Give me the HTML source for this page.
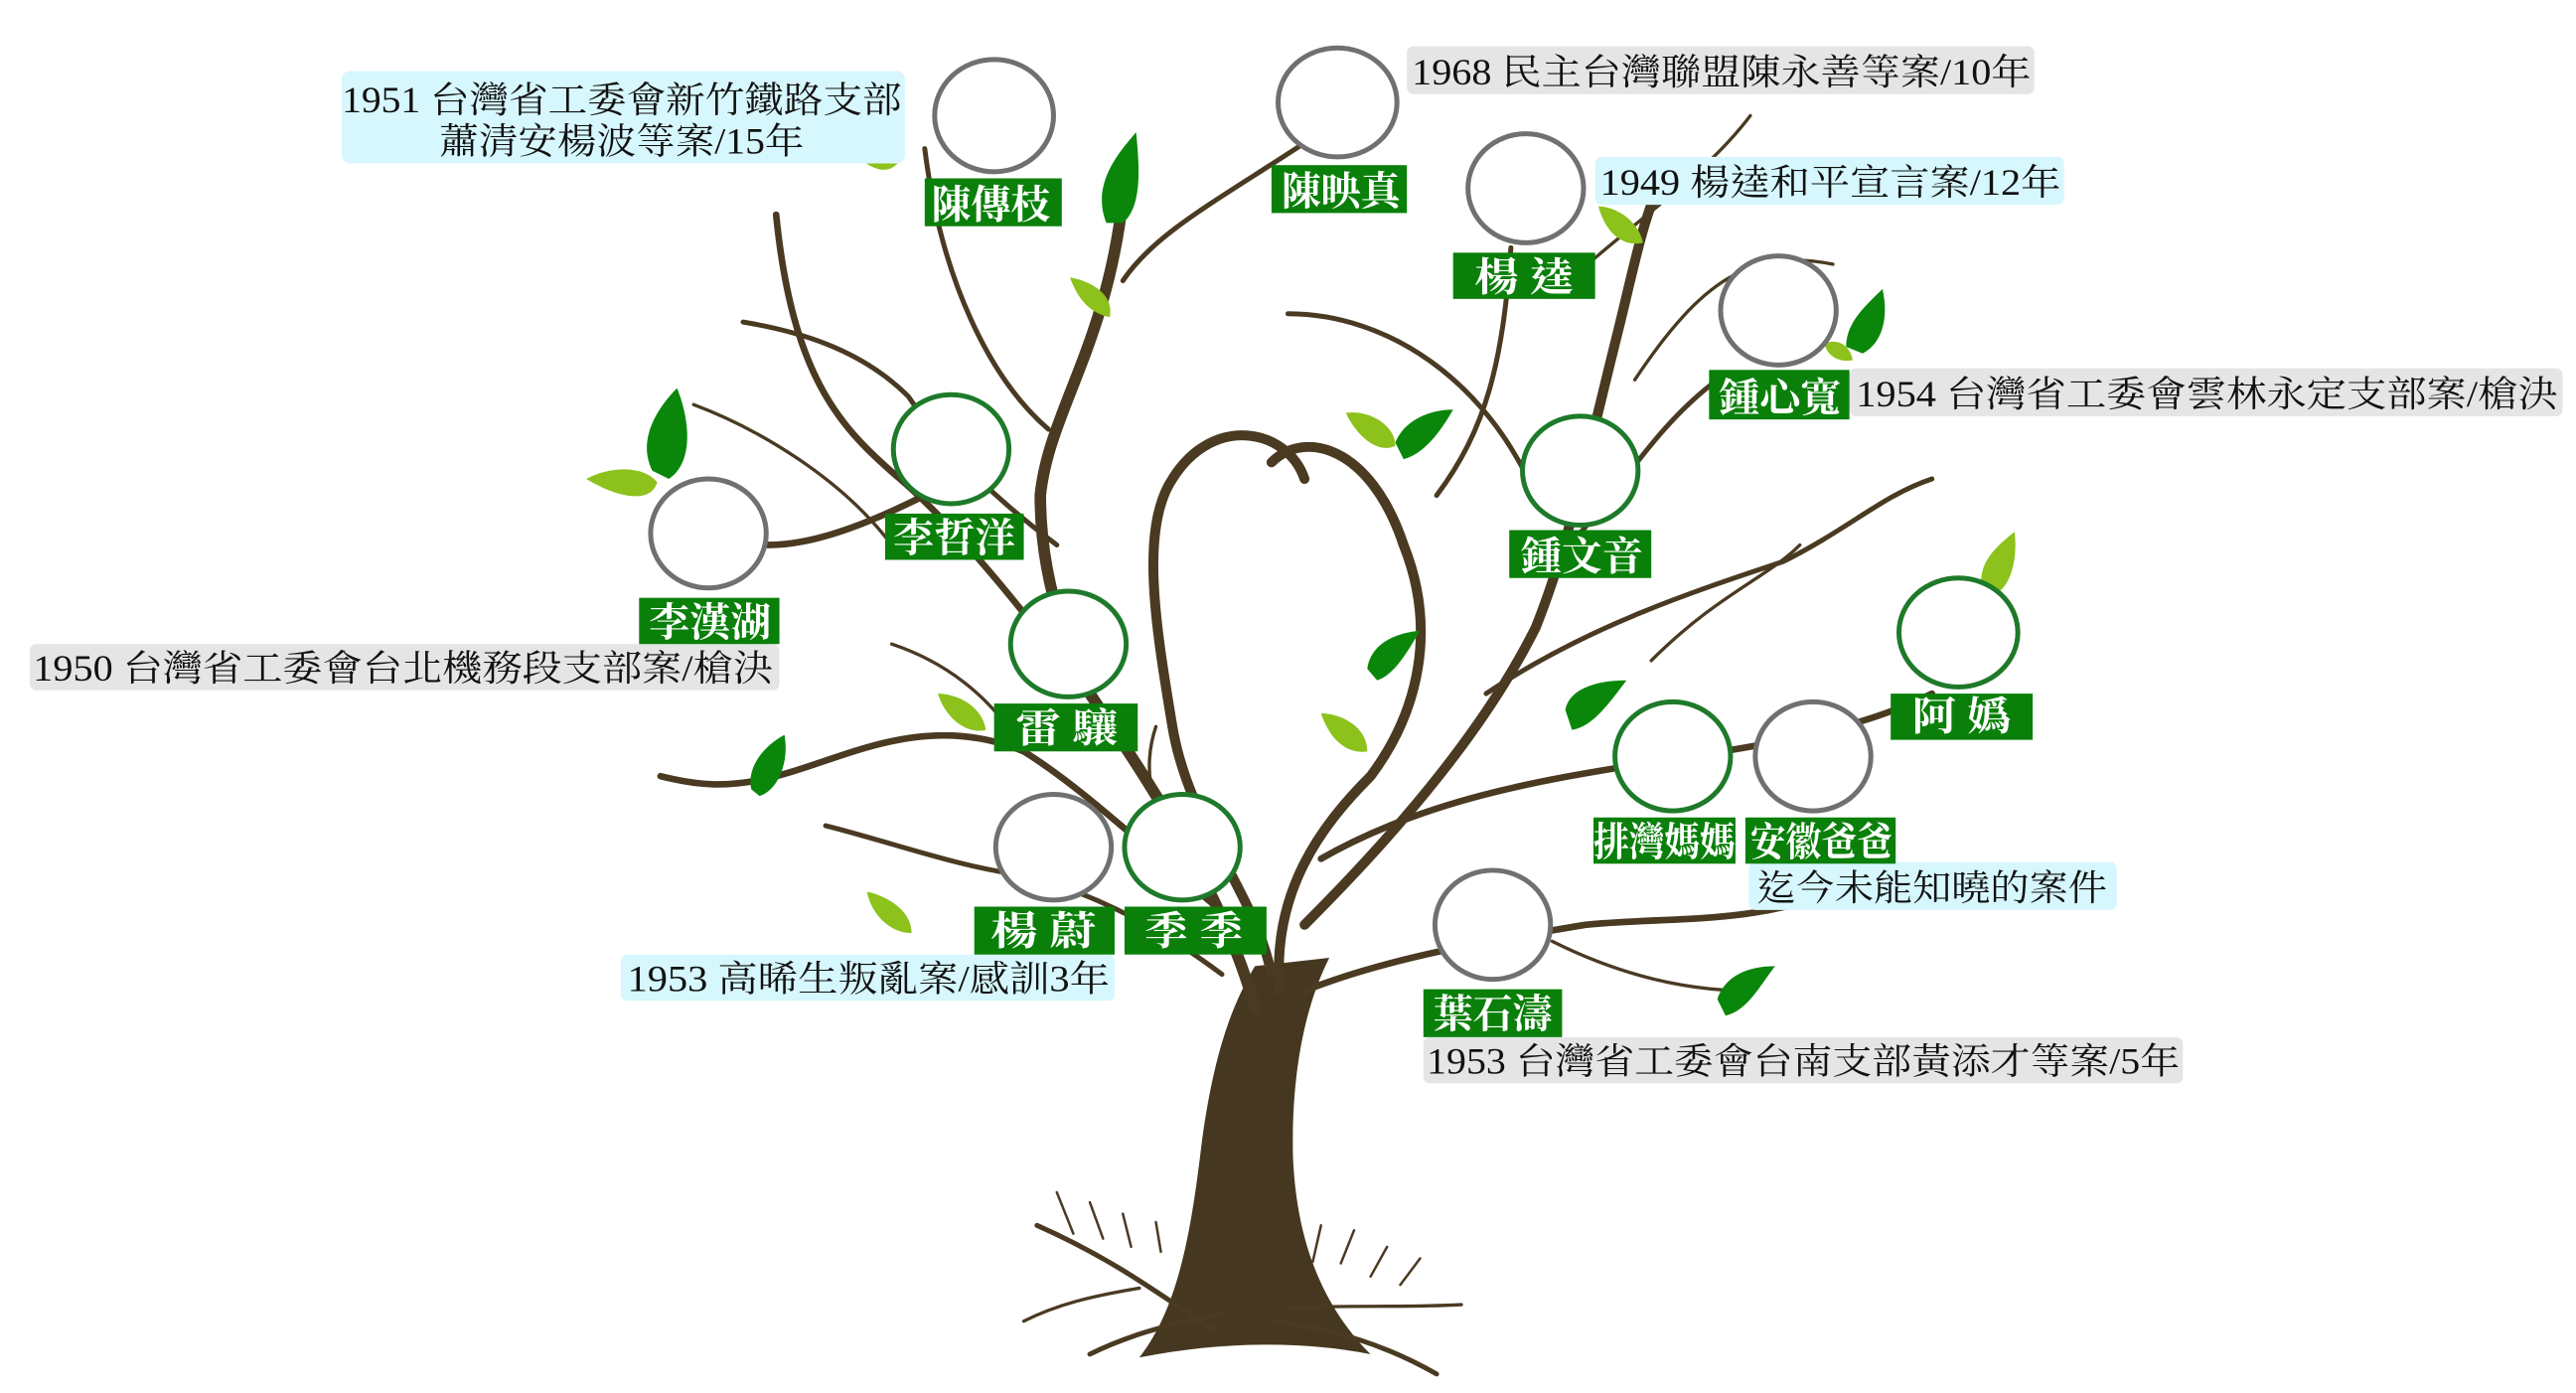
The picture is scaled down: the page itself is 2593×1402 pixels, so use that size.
<!DOCTYPE html>
<html><head><meta charset="utf-8"><style>
html,body{margin:0;padding:0;background:#fff;}
svg{display:block;}
.lbl{font-family:"Liberation Serif","Noto Serif CJK TC","Noto Serif CJK SC",serif;font-weight:bold;fill:#fff;font-size:24px;}
.ann{font-family:"Liberation Serif","Noto Serif CJK TC","Noto Serif CJK SC",serif;fill:#111;font-size:22px;}
</style></head><body>
<svg width="2593" height="1402" viewBox="0 0 1560 843.5" xmlns="http://www.w3.org/2000/svg">
<g fill="none" stroke="#4a3a22" stroke-linecap="round">
<!-- trunk -->
<path d="M690,822 C715,790 722,740 728,690 C735,640 745,610 760,585 L805,580 C790,610 782,650 783,700 C785,750 800,790 830,820 C790,812 740,812 690,822 Z" fill="#463820" stroke="none"/>
<path d="M628,742 C680,765 710,790 735,805" stroke-width="3"/>
<path d="M660,820 C690,805 720,800 740,795" stroke-width="3"/>
<path d="M770,800 C810,805 840,815 870,832" stroke-width="3"/>
<path d="M780,792 C820,790 850,792 885,790" stroke-width="2"/>
<path d="M690,780 C660,785 640,790 620,800" stroke-width="2"/>
<path d="M640,722 l10,25 M660,728 l8,22 M680,735 l5,20 M700,740 l3,18 M800,742 l-5,22 M820,745 l-8,20 M840,755 l-10,18 M860,762 l-12,16" stroke-width="1.5"/>
<!-- main branches -->
<path d="M760,610 C740,540 700,480 660,420 C640,380 630,340 630,300 C635,250 670,210 680,120" stroke-width="7"/>
<path d="M650,410 C620,370 580,320 545,290 C510,260 480,230 470,130" stroke-width="4"/>
<path d="M640,330 C600,300 570,270 550,240 C520,210 480,200 450,195" stroke-width="3"/>
<path d="M635,260 C600,230 570,170 560,90" stroke-width="3"/>
<path d="M680,170 C700,140 740,120 800,80" stroke-width="3"/>
<path d="M560,300 C520,320 490,330 465,330" stroke-width="4"/>
<path d="M540,330 C510,290 460,260 420,245" stroke-width="2"/>
<!-- heart -->
<path d="M770,590 C760,540 720,500 710,440 C700,380 690,320 710,290 C735,250 780,260 790,290" stroke-width="6"/>
<path d="M775,600 C770,540 800,500 830,470 C860,430 870,380 850,330 C830,270 790,260 770,280" stroke-width="6"/>
<!-- right branches -->
<path d="M790,560 C850,500 900,440 930,380 C950,330 960,280 980,200 C990,160 995,130 1010,100" stroke-width="6"/>
<path d="M950,330 C980,300 1000,260 1040,230" stroke-width="3"/>
<path d="M870,300 C900,260 910,220 915,150" stroke-width="3"/>
<path d="M930,300 C900,230 840,190 780,190" stroke-width="3"/>
<path d="M940,180 C980,140 1030,110 1060,70" stroke-width="2"/>
<path d="M990,230 C1030,170 1060,150 1110,160" stroke-width="2"/>
<path d="M900,420 C960,380 1020,360 1080,340 C1120,320 1140,300 1170,290" stroke-width="3"/>
<path d="M800,520 C870,480 950,470 1010,460 C1080,450 1130,440 1170,420" stroke-width="4"/>
<path d="M790,600 C840,580 900,570 960,560 C1010,555 1060,560 1110,540" stroke-width="4"/>
<path d="M940,570 C980,590 1020,600 1060,600" stroke-width="2"/>
<path d="M1000,400 C1040,360 1070,350 1090,330" stroke-width="2"/>
<!-- left lower -->
<path d="M750,560 C700,520 660,480 620,455 C560,430 510,460 470,470 C440,478 420,475 400,470" stroke-width="4"/>
<path d="M740,590 C700,560 660,540 620,530 C580,525 540,510 500,500" stroke-width="3"/>
<path d="M620,455 C600,420 570,400 540,390" stroke-width="2"/>
<path d="M720,520 C700,500 690,470 700,440" stroke-width="2"/>
</g>
<!-- leaves -->
<g>
<path d="M670,135 C660,110 680,90 688,80 C690,100 692,125 680,135 Z" fill="#0a870a"/>
<path d="M520,95 C530,105 540,105 545,97 Z" fill="#8cc21b"/>
<path d="M648,168 C660,170 675,178 672,192 C660,190 652,180 648,168 Z" fill="#8cc21b"/>
<path d="M395,285 C385,265 400,245 410,235 C418,255 420,280 405,290 Z" fill="#0a870a"/>
<path d="M355,290 C370,282 390,282 398,292 C394,305 375,302 355,290 Z" fill="#8cc21b"/>
<path d="M455,478 C452,465 462,452 475,445 C478,460 472,478 460,482 Z" fill="#0a870a"/>
<path d="M568,420 C580,420 595,428 597,442 C585,445 572,434 568,420 Z" fill="#8cc21b"/>
<path d="M525,540 C535,542 552,550 552,565 C540,565 528,555 525,540 Z" fill="#8cc21b"/>
<path d="M815,250 C830,248 845,258 845,270 C835,275 822,265 815,250 Z" fill="#8cc21b"/>
<path d="M845,268 C850,255 865,248 880,248 C872,262 862,275 850,278 Z" fill="#0a870a"/>
<path d="M828,405 C830,390 845,383 860,382 C852,395 845,408 834,412 Z" fill="#0a870a"/>
<path d="M800,432 C812,432 828,440 828,455 C815,457 805,447 800,432 Z" fill="#8cc21b"/>
<path d="M948,430 C950,418 965,412 985,412 C975,425 965,440 952,442 Z" fill="#0a870a"/>
<path d="M1040,605 C1045,590 1060,585 1075,585 C1065,598 1058,612 1045,615 Z" fill="#0a870a"/>
<path d="M1200,355 C1198,340 1210,330 1220,322 C1222,338 1218,355 1208,360 Z" fill="#8cc21b"/>
<path d="M1118,210 C1118,195 1130,185 1140,175 C1144,192 1140,208 1128,214 Z" fill="#0a870a"/>
<path d="M1105,208 C1112,205 1120,208 1122,218 C1112,220 1106,214 1105,208 Z" fill="#8cc21b"/>
<path d="M968,125 C978,125 992,133 995,147 C982,150 972,140 968,125 Z" fill="#8cc21b"/>
</g>
<!-- annotation boxes -->
<rect x="207" y="43" width="341" height="56" rx="5" fill="#d6f7fd"/>
<text class="ann" x="207" y="68" textLength="339" lengthAdjust="spacingAndGlyphs">1951  台灣省工委會新竹鐵路支部</text>
<text class="ann" x="266" y="93" textLength="221" lengthAdjust="spacingAndGlyphs">蕭清安楊波等案/15年</text>
<rect x="852" y="28" width="380" height="29" rx="4" fill="#e5e5e5"/>
<text class="ann" x="855" y="51" textLength="375" lengthAdjust="spacingAndGlyphs">1968  民主台灣聯盟陳永善等案/10年</text>
<rect x="966" y="95" width="284" height="29" rx="4" fill="#d6f7fd"/>
<text class="ann" x="969" y="118" textLength="279" lengthAdjust="spacingAndGlyphs">1949  楊逵和平宣言案/12年</text>
<rect x="1120" y="223" width="432" height="29" rx="4" fill="#e5e5e5"/>
<text class="ann" x="1124" y="246" textLength="425" lengthAdjust="spacingAndGlyphs">1954  台灣省工委會雲林永定支部案/槍決</text>
<rect x="18" y="390" width="454" height="28" rx="4" fill="#e5e5e5"/>
<text class="ann" x="20" y="412" textLength="448" lengthAdjust="spacingAndGlyphs">1950  台灣省工委會台北機務段支部案/槍決</text>
<rect x="1059" y="522" width="223" height="29" rx="4" fill="#d6f7fd"/>
<text class="ann" x="1064" y="545" textLength="212" lengthAdjust="spacingAndGlyphs">迄今未能知曉的案件</text>
<rect x="376" y="578" width="299" height="28" rx="4" fill="#d6f7fd"/>
<text class="ann" x="380" y="600" textLength="292" lengthAdjust="spacingAndGlyphs">1953  高晞生叛亂案/感訓3年</text>
<rect x="862" y="628" width="460" height="28" rx="4" fill="#e5e5e5"/>
<text class="ann" x="864" y="650" textLength="456" lengthAdjust="spacingAndGlyphs">1953  台灣省工委會台南支部黃添才等案/5年</text>
<!-- circles -->
<g fill="#fff" stroke-width="3">
<ellipse cx="602" cy="70" rx="36" ry="34" stroke="#707070"/>
<ellipse cx="810" cy="62" rx="36" ry="33" stroke="#707070"/>
<ellipse cx="924" cy="114" rx="35" ry="33" stroke="#707070"/>
<ellipse cx="1077" cy="188" rx="35" ry="33" stroke="#707070"/>
<ellipse cx="576" cy="272" rx="35" ry="33" stroke="#1e7a2a"/>
<ellipse cx="957" cy="285" rx="35" ry="33" stroke="#1e7a2a"/>
<ellipse cx="429" cy="323" rx="35" ry="33" stroke="#707070"/>
<ellipse cx="647" cy="390" rx="35" ry="32" stroke="#1e7a2a"/>
<ellipse cx="1186" cy="383" rx="36" ry="33" stroke="#1e7a2a"/>
<ellipse cx="1013" cy="458" rx="35" ry="33" stroke="#1e7a2a"/>
<ellipse cx="1098" cy="458" rx="35" ry="33" stroke="#707070"/>
<ellipse cx="638" cy="513" rx="35" ry="32" stroke="#707070"/>
<ellipse cx="716" cy="513" rx="35" ry="32" stroke="#1e7a2a"/>
<ellipse cx="904" cy="560" rx="35" ry="33" stroke="#707070"/>
</g>
<!-- labels -->
<g fill="#0a800a">
<rect x="560" y="108" width="83" height="29"/>
<rect x="770" y="100" width="82" height="29"/>
<rect x="880" y="153" width="86" height="28"/>
<rect x="1035" y="224" width="85" height="30"/>
<rect x="536" y="311" width="84" height="28"/>
<rect x="914" y="321" width="86" height="29"/>
<rect x="387" y="362" width="85" height="28"/>
<rect x="602" y="426" width="87" height="29"/>
<rect x="1145" y="420" width="86" height="28"/>
<rect x="965" y="495" width="86" height="28"/>
<rect x="1057" y="495" width="91" height="28"/>
<rect x="590" y="549" width="85" height="29"/>
<rect x="681" y="549" width="86" height="29"/>
<rect x="862" y="599" width="84" height="29"/>
</g>
<g class="lbl">
<text x="564" y="132" textLength="72" lengthAdjust="spacingAndGlyphs">陳傳枝</text>
<text x="776" y="124" textLength="72" lengthAdjust="spacingAndGlyphs">陳映真</text>
<text x="893" y="176" textLength="60" lengthAdjust="spacingAndGlyphs">楊 逵</text>
<text x="1041" y="249" textLength="74" lengthAdjust="spacingAndGlyphs">鍾心寬</text>
<text x="541" y="334" textLength="74" lengthAdjust="spacingAndGlyphs">李哲洋</text>
<text x="921" y="345" textLength="74" lengthAdjust="spacingAndGlyphs">鍾文音</text>
<text x="393" y="385" textLength="74" lengthAdjust="spacingAndGlyphs">李漢湖</text>
<text x="615" y="449" textLength="62" lengthAdjust="spacingAndGlyphs">雷 驤</text>
<text x="1158" y="442" textLength="60" lengthAdjust="spacingAndGlyphs">阿 嬀</text>
<text x="965" y="518" textLength="86" lengthAdjust="spacingAndGlyphs">排灣媽媽</text>
<text x="1060" y="518" textLength="86" lengthAdjust="spacingAndGlyphs">安徽爸爸</text>
<text x="600" y="572" textLength="64" lengthAdjust="spacingAndGlyphs">楊 蔚</text>
<text x="693" y="572" textLength="60" lengthAdjust="spacingAndGlyphs">季 季</text>
<text x="868" y="622" textLength="72" lengthAdjust="spacingAndGlyphs">葉石濤</text>
</g>
</svg>
</body></html>
